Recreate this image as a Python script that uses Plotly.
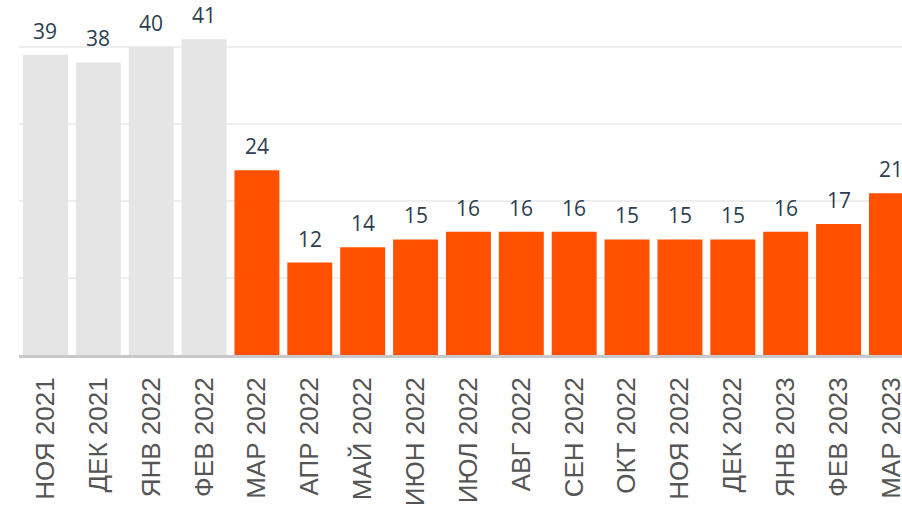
import plotly.graph_objects as go

categories = ["НОЯ 2021", "ДЕК 2021", "ЯНВ 2022", "ФЕВ 2022", "МАР 2022", "АПР 2022",
              "МАЙ 2022", "ИЮН 2022", "ИЮЛ 2022", "АВГ 2022", "СЕН 2022", "ОКТ 2022",
              "НОЯ 2022", "ДЕК 2022", "ЯНВ 2023", "ФЕВ 2023", "МАР 2023"]
values = [39, 38, 40, 41, 24, 12, 14, 15, 16, 16, 16, 15, 15, 15, 16, 17, 21]
n_grey = 4

colors = ["#e5e5e5"] * n_grey + ["#ff5000"] * (len(values) - n_grey)

fig = go.Figure(go.Bar(
    x=categories, y=values,
    marker=dict(color=colors, line=dict(width=0)),
    hoverinfo="x+y",
))

for c, v in zip(categories, values):
    fig.add_annotation(x=c, y=v, text=str(v), showarrow=False, yanchor="bottom",
                       yshift=8, font=dict(family="Open Sans", size=21, color="#2b3e50"))

fig.update_layout(
    width=902, height=505,
    margin=dict(l=19, r=0, t=0, b=150, autoexpand=False),
    plot_bgcolor="white", paper_bgcolor="white",
    bargap=0.15, showlegend=False,
    xaxis=dict(range=[-0.5, 16.2], tickangle=-90, automargin=False,
               tickfont=dict(family="Liberation Sans", size=26, color="#555555"),
               showline=True, linecolor="#c8c8c8", linewidth=3,
               ticks="", showgrid=False, fixedrange=True),
    yaxis=dict(range=[0, 46.1], tickvals=[10, 20, 30, 40], showticklabels=False,
               automargin=False,
               showgrid=True, gridcolor="#eeeeee", gridwidth=2, zeroline=False,
               fixedrange=True),
)
fig.update_xaxes(ticklabelstandoff=9)

fig.write_html("out.html", config={"displayModeBar": False},
               post_script="document.body.style.margin='0';document.body.style.overflow='hidden';")
